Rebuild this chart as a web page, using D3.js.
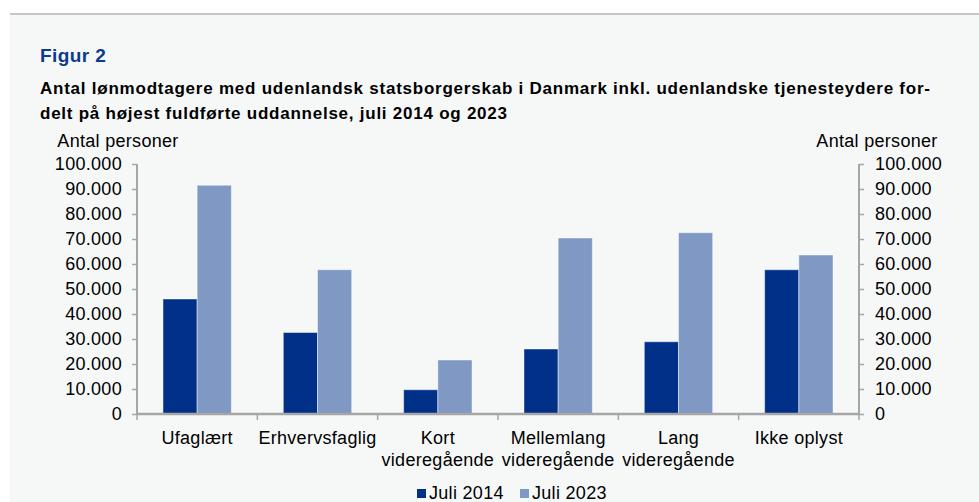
<!DOCTYPE html>
<html>
<head>
<meta charset="utf-8">
<script src="https://cdn.jsdelivr.net/npm/d3@7"></script>
<style>
  body { margin: 0; background: #fff; }
  svg { display: block; font-family: "Liberation Sans", Arial, sans-serif; }
  .axis path, .axis line { stroke: #a6a6a6; }
  .axis text { fill: #000; font-size: 18px; letter-spacing: 0.3px; }
</style>
</head>
<body>
<div id="chart"></div>
<script>
// Data
const categories = ["Ufaglært", "Erhvervsfaglig", "Kort\nvideregående", "Mellemlang\nvideregående", "Lang\nvideregående", "Ikke oplyst"];
const seriesNames = ["Juli 2014", "Juli 2023"];
const juli2014 = [46000, 32600, 9700, 26000, 28900, 57700];
const juli2023 = [91500, 57700, 21600, 70400, 72500, 63600];
const yTicks = [0, 10000, 20000, 30000, 40000, 50000, 60000, 70000, 80000, 90000, 100000];
const colours = ["#003087", "#7f99c4"];

const width = 979, height = 502;
const margin = { top: 164, right: 120, bottom: 88, left: 137 };
const innerW = width - margin.left - margin.right;
const innerH = height - margin.top - margin.bottom;

const svg = d3.select("#chart").append("svg")
  .attr("width", width)
  .attr("height", height);

// Panel background and top rule
svg.append("rect")
  .attr("x", 10).attr("y", 15)
  .attr("width", width - 10).attr("height", height - 15)
  .attr("fill", "#f6f8f8");
svg.append("line")
  .attr("x1", 10).attr("x2", width)
  .attr("y1", 14).attr("y2", 14)
  .attr("stroke", "#b4b4b4").attr("stroke-width", 1.5);

// Heading
svg.append("text")
  .attr("x", 40).attr("y", 62)
  .attr("fill", "#0b3a8f")
  .attr("font-weight", "bold")
  .attr("font-size", 19)
  .attr("letter-spacing", 0.4)
  .text("Figur 2");

const titleLines = [
  { text: "Antal lønmodtagere med udenlandsk statsborgerskab i Danmark inkl. udenlandske tjenesteydere for-", len: 890 },
  { text: "delt på højest fuldførte uddannelse, juli 2014 og 2023", len: 467 }
];
svg.append("g").selectAll("text")
  .data(titleLines)
  .join("text")
  .attr("x", 40)
  .attr("y", (d, i) => 94 + i * 25)
  .attr("font-weight", "bold")
  .attr("font-size", 17)
  .attr("fill", "#000")
  .attr("textLength", d => d.len)
  .attr("lengthAdjust", "spacing")
  .text(d => d.text);

const chart = svg.append("g")
  .attr("transform", `translate(${margin.left},${margin.top})`);

// Scales
const xScale = d3.scaleBand().domain(categories).range([0, innerW]).padding(0);
const xInner = d3.scaleBand().domain(seriesNames).range([0, xScale.bandwidth()])
  .paddingInner(0).paddingOuter(0.76);
const yScale = d3.scaleLinear().domain([0, 100000]).range([innerH, 0]);

const fmt = d => d3.format(",")(d).replace(/,/g, ".");

// Y axes (left and right)
const yAxisL = d3.axisLeft(yScale).tickValues(yTicks).tickSize(5).tickPadding(10).tickFormat(fmt);
const yAxisR = d3.axisRight(yScale).tickValues(yTicks).tickSize(5).tickPadding(11).tickFormat(fmt);

chart.append("g").attr("class", "axis y-left").call(yAxisL)
  .call(g => g.select(".domain").attr("d", `M0,0V${innerH}`).attr("stroke-width", 2))
  .call(g => g.selectAll(".tick line").attr("stroke-width", 1.5));
chart.append("g").attr("class", "axis y-right")
  .attr("transform", `translate(${innerW},0)`)
  .call(yAxisR)
  .call(g => g.select(".domain").attr("d", `M0,0V${innerH}`).attr("stroke-width", 2))
  .call(g => g.selectAll(".tick line").attr("stroke-width", 1.5));

// Axis titles
[118, 877].forEach(x => {
  svg.append("text")
    .attr("x", x).attr("y", 147)
    .attr("text-anchor", "middle")
    .attr("font-size", 18)
    .attr("letter-spacing", 0.3)
    .text("Antal personer");
});

// Bars
const rows = categories.map((c, i) => ({ cat: c, values: [juli2014[i], juli2023[i]] }));
const groups = chart.selectAll(".group")
  .data(rows)
  .join("g")
  .attr("class", "group")
  .attr("transform", d => `translate(${xScale(d.cat)},0)`);

groups.selectAll("rect")
  .data(d => d.values.map((v, j) => ({ series: seriesNames[j], value: v, j: j })))
  .join("rect")
  .attr("x", d => xInner(d.series))
  .attr("width", xInner.bandwidth())
  .attr("y", d => yScale(d.value))
  .attr("height", d => innerH - yScale(d.value))
  .attr("fill", d => colours[d.j])
  .attr("stroke", "#ffffff")
  .attr("stroke-opacity", 0.45)
  .attr("stroke-width", 1);

// X axis with boundary ticks and two-line labels
const xAxis = d3.axisBottom(xScale).tickSize(0).tickPadding(0).tickFormat("");
const xAxisG = chart.append("g").attr("class", "axis x-axis")
  .attr("transform", `translate(0,${innerH})`)
  .call(xAxis)
  .call(g => g.select(".domain").attr("d", `M0,0H${innerW}`).attr("stroke-width", 2.5));

const boundaries = d3.range(categories.length + 1).map(k => k * xScale.step());
xAxisG.selectAll(".bound")
  .data(boundaries)
  .join("line")
  .attr("class", "bound")
  .attr("x1", d => d).attr("x2", d => d)
  .attr("y1", 0).attr("y2", 6)
  .attr("stroke", "#a6a6a6").attr("stroke-width", 1.5);

xAxisG.selectAll(".tick").each(function (d) {
  const t = d3.select(this).append("text")
    .attr("text-anchor", "middle")
    .attr("y", 30);
  d.split("\n").forEach((line, i) => {
    t.append("tspan").attr("x", 0).attr("dy", i === 0 ? 0 : 22).text(line);
  });
});

// Legend
const legend = svg.append("g").attr("transform", "translate(417,489)");
const legendX = [0, 103];
seriesNames.forEach((name, i) => {
  const g = legend.append("g").attr("transform", `translate(${legendX[i]},0)`);
  g.append("rect").attr("width", 9).attr("height", 9).attr("fill", colours[i]);
  g.append("text").attr("x", 12).attr("y", 10)
    .attr("font-size", 18).attr("letter-spacing", 0.3)
    .text(name);
});
</script>
</body>
</html>
